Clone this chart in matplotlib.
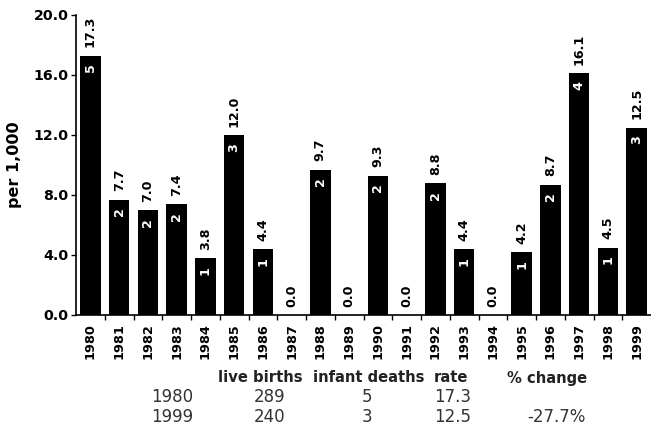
#!/usr/bin/env python3
"""Infant mortality rate per 1,000 live births, 1980-1999."""

import matplotlib

matplotlib.use("Agg")

import matplotlib.pyplot as plt
import numpy as np

years = [str(y) for y in range(1980, 2000)]
rates = [17.3, 7.7, 7.0, 7.4, 3.8, 12.0, 4.4, 0.0, 9.7, 0.0,
         9.3, 0.0, 8.8, 4.4, 0.0, 4.2, 8.7, 16.1, 4.5, 12.5]
deaths = [5, 2, 2, 2, 1, 3, 1, 0, 2, 0,
          2, 0, 2, 1, 0, 1, 2, 4, 1, 3]

table_header = ["live births", "infant deaths", "rate", "% change"]
table_rows = [
    ["1980", "289", "5", "17.3", ""],
    ["1999", "240", "3", "12.5", "-27.7%"],
]

W, H = 651, 430

plt.rcParams["font.family"] = ["DejaVu Sans"]

fig = plt.figure(figsize=(W / 100, H / 100), dpi=100)
ax = fig.add_axes([76 / W, 1 - 315 / H, 1 - 76 / W, 300 / H])

x = np.arange(len(years))
ax.bar(x, rates, width=0.72, color="black", zorder=2)

for xi, rate, n in zip(x, rates, deaths):
    ax.annotate(f"{rate:.1f}", (xi, rate), xytext=(0, 6),
                textcoords="offset points", rotation=90,
                ha="center", va="bottom", fontsize=9.2, fontweight="bold")
    if n > 0:
        ax.annotate(str(n), (xi, rate), xytext=(0, -5.5),
                    textcoords="offset points", rotation=90,
                    ha="center", va="top", fontsize=9.2, fontweight="bold",
                    color="white")

ax.set_xlim(-0.5, len(years) - 0.5)
ax.set_ylim(0, 20)
yt = [0, 4, 8, 12, 16, 20]
ax.set_yticks(yt)
ax.set_yticklabels([f"{v:.1f}" for v in yt], fontsize=10.2, fontweight="bold")
ax.set_xticks(x)
ax.set_xticklabels(years, rotation=90, fontsize=9.3, fontweight="bold")
ax.set_xticks(np.arange(0.5, len(years) - 0.5, 1), minor=True)
ax.tick_params(axis="x", which="major", length=0, pad=6)
ax.tick_params(axis="x", which="minor", length=3.5, width=1)
ax.tick_params(axis="y", length=3.5, width=1, pad=2)
ax.spines[["top", "right"]].set_visible(False)
ax.spines[["left", "bottom"]].set_linewidth(1.2)
ax.set_ylabel("per 1,000", fontsize=11.5, fontweight="bold", labelpad=8)

# summary table below the chart
header_x = [260, 369, 451, 547]
for label, hx in zip(table_header, header_x):
    fig.text(hx / W, 1 - 378 / H, label, ha="center", va="center",
             fontsize=10.6, fontweight="bold", color="#222222")
col_x = [172, 270, 367, 453, 556]
for row, ry in zip(table_rows, [397, 417]):
    for val, cx in zip(row, col_x):
        fig.text(cx / W, 1 - ry / H, val, ha="center", va="center",
                 fontsize=12, color="#333333")

fig.savefig("out.png", dpi=100)
